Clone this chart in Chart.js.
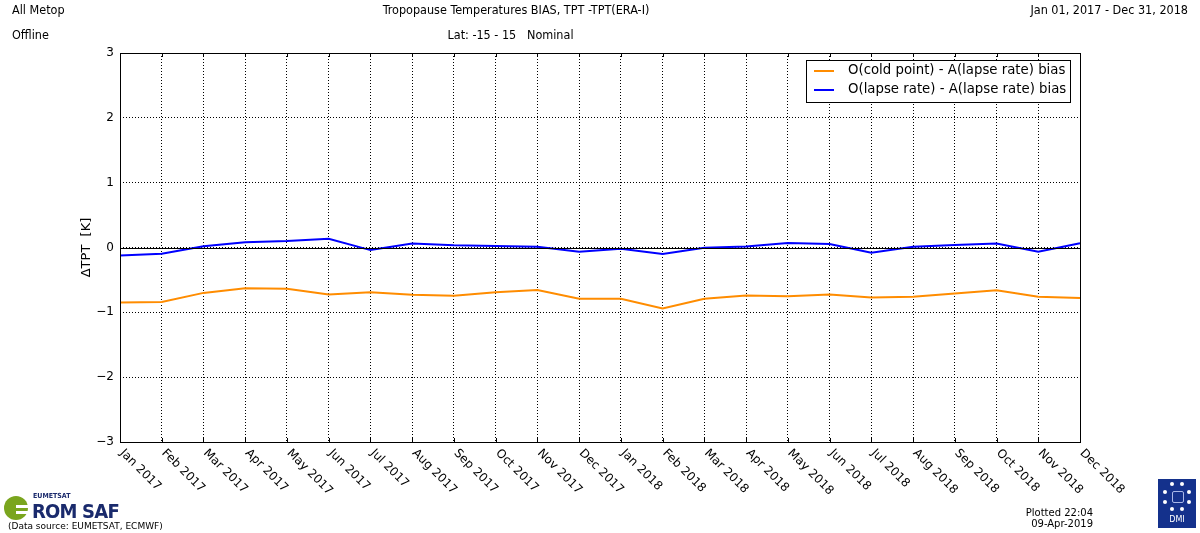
<!DOCTYPE html>
<html>
<head>
<meta charset="utf-8">
<script src="https://cdn.jsdelivr.net/npm/chart.js@4.4.0/dist/chart.umd.min.js"></script>
<style>
  html, body { margin: 0; padding: 0; background: #fff; }
  #wrap { position: relative; width: 1200px; height: 533px; overflow: hidden; }
  #c { position: absolute; left: 0; top: 0; }
  .hdr { position: absolute; font: 12.5px "DejaVu Sans Condensed", "Liberation Sans Narrow", "DejaVu Sans", sans-serif; color: #000; white-space: nowrap; }
  .ft { position: absolute; font: 10px "DejaVu Sans", sans-serif; color: #000; white-space: nowrap; }
</style>
</head>
<body>
<div id="wrap">
  <canvas id="c" width="1200" height="533"></canvas>

  <div class="hdr" style="left:12px;top:2px;">All Metop</div>
  <div class="hdr" style="left:0;width:1032px;top:2px;text-align:center;">Tropopause Temperatures BIAS, TPT -TPT(ERA-I)</div>
  <div class="hdr" style="right:12px;top:2px;">Jan 01, 2017 - Dec 31, 2018</div>
  <div class="hdr" style="left:12px;top:27px;">Offline</div>
  <div class="hdr" style="left:0;width:1021px;top:27px;text-align:center;">Lat: -15 - 15 &nbsp; Nominal</div>

  <!-- ROM SAF logo (approximation) -->
  <div style="position:absolute;left:4px;top:496px;width:24px;height:24px;border-radius:50%;background:#7aa51e;"></div>
  <div style="position:absolute;left:16px;top:505px;width:14px;height:3px;background:#fff;"></div>
  <div style="position:absolute;left:16px;top:511px;width:14px;height:3px;background:#fff;"></div>
  <div style="position:absolute;left:33px;top:492px;font:bold 7px 'DejaVu Sans Condensed','DejaVu Sans',sans-serif;color:#1a2a6c;">EUMETSAT</div>
  <div style="position:absolute;left:32px;top:499px;font:bold 20px 'DejaVu Sans Condensed','DejaVu Sans',sans-serif;color:#1a2a6c;letter-spacing:-0.8px;">ROM SAF</div>
  <div class="ft" style="left:8px;top:521px;font-size:9px;">(Data source: EUMETSAT, ECMWF)</div>

  <div class="ft" style="right:107px;top:507px;text-align:right;line-height:11px;">Plotted 22:04<br>09-Apr-2019</div>

  <!-- DMI logo (approximation) -->
  <div style="position:absolute;left:1158px;top:479px;width:38px;height:49px;background:#14318c;">
    <div style="position:absolute;left:0;width:38px;top:36px;text-align:center;font:8px 'DejaVu Sans',sans-serif;color:#fff;">DMI</div>
    <div style="position:absolute;left:12px;top:3px;width:4px;height:4px;border-radius:50%;background:#fff;"></div>
    <div style="position:absolute;left:22px;top:3px;width:4px;height:4px;border-radius:50%;background:#fff;"></div>
    <div style="position:absolute;left:5px;top:11px;width:4px;height:4px;border-radius:50%;background:#fff;"></div>
    <div style="position:absolute;left:29px;top:11px;width:4px;height:4px;border-radius:50%;background:#fff;"></div>
    <div style="position:absolute;left:5px;top:21px;width:4px;height:4px;border-radius:50%;background:#fff;"></div>
    <div style="position:absolute;left:29px;top:21px;width:4px;height:4px;border-radius:50%;background:#fff;"></div>
    <div style="position:absolute;left:12px;top:28px;width:4px;height:4px;border-radius:50%;background:#fff;"></div>
    <div style="position:absolute;left:22px;top:28px;width:4px;height:4px;border-radius:50%;background:#fff;"></div>
    <div style="position:absolute;left:14px;top:12px;width:10px;height:10px;border:1px solid #aab8e8;border-radius:2px;"></div>
  </div>
</div>

<script>
// month labels along x
const months = [
  "Jan 2017", "Feb 2017", "Mar 2017", "Apr 2017", "May 2017", "Jun 2017",
  "Jul 2017", "Aug 2017", "Sep 2017", "Oct 2017", "Nov 2017", "Dec 2017",
  "Jan 2018", "Feb 2018", "Mar 2018", "Apr 2018", "May 2018", "Jun 2018",
  "Jul 2018", "Aug 2018", "Sep 2018", "Oct 2018", "Nov 2018", "Dec 2018"
];

// O(cold point) - A(lapse rate)
const coldPointBias = [
  -0.85, -0.84, -0.70, -0.63, -0.635, -0.725, -0.69, -0.73, -0.745, -0.69, -0.655, -0.79,
  -0.79, -0.94, -0.79, -0.74, -0.75, -0.725, -0.77, -0.76, -0.71, -0.66, -0.76, -0.78
];

// O(lapse rate) - A(lapse rate)
const lapseRateBias = [
  -0.125, -0.095, 0.02, 0.08, 0.10, 0.135, -0.04, 0.06, 0.035, 0.025, 0.01, -0.065,
  -0.02, -0.10, -0.005, 0.015, 0.07, 0.055, -0.08, 0.01, 0.04, 0.06, -0.065, 0.065
];

const seriesLabels = ["O(cold point) - A(lapse rate) bias", "O(lapse rate) - A(lapse rate) bias"];
const yTitle = "\u0394TPT  [K]";

const mainFont = '"DejaVu Sans", sans-serif';

// extra drawing: zero line, frame, rotated month labels, y title, legend box
const decorPlugin = {
  id: "decor",
  afterDatasetsDraw(chart) {
    const { ctx, chartArea: a, scales } = chart;
    ctx.save();
    // solid zero line
    const y0 = Math.round(scales.y.getPixelForValue(0)) + 0.5;
    ctx.strokeStyle = "#000";
    ctx.lineWidth = 1;
    ctx.beginPath();
    ctx.moveTo(a.left, y0);
    ctx.lineTo(a.right, y0);
    ctx.stroke();
    ctx.restore();
  },
  afterDraw(chart) {
    const { ctx, chartArea: a, scales } = chart;
    const x = scales.x;
    ctx.save();

    // plot frame
    ctx.strokeStyle = "#000";
    ctx.lineWidth = 1;
    ctx.strokeRect(Math.round(a.left) + 0.5, Math.round(a.top) + 0.5,
                   Math.round(a.right - a.left), Math.round(a.bottom - a.top));

    // small inside tick marks on the x axis
    months.forEach((m, i) => {
      const px = Math.round(x.getPixelForValue(i)) + 0.5;
      ctx.beginPath();
      ctx.moveTo(px, a.bottom); ctx.lineTo(px, a.bottom - 4);
      ctx.moveTo(px, a.top); ctx.lineTo(px, a.top + 4);
      ctx.stroke();
    });

    // rotated month labels (clockwise, starting at the tick)
    ctx.font = "12px " + mainFont;
    ctx.fillStyle = "#000";
    ctx.textAlign = "left";
    ctx.textBaseline = "top";
    months.forEach((m, i) => {
      const px = x.getPixelForValue(i);
      ctx.save();
      ctx.translate(px + 6, a.bottom + 5);
      ctx.rotate(Math.PI / 4);
      ctx.fillText(m, 0, 0);
      ctx.restore();
    });

    // y axis title
    ctx.save();
    ctx.font = "13px " + mainFont;
    ctx.textAlign = "center";
    ctx.textBaseline = "middle";
    ctx.translate(87, (a.top + a.bottom) / 2);
    ctx.rotate(-Math.PI / 2);
    ctx.fillText(yTitle, 0, 0);
    ctx.restore();

    // legend box in the upper right of the plot
    const bx = 806, by = 60, bw = 264, bh = 42;
    ctx.fillStyle = "#fff";
    ctx.fillRect(bx, by, bw, bh);
    ctx.strokeStyle = "#000";
    ctx.strokeRect(bx + 0.5, by + 0.5, bw, bh);
    ctx.font = "13.3px " + mainFont;
    ctx.textBaseline = "middle";
    ctx.textAlign = "left";
    chart.data.datasets.forEach((ds, i) => {
      const ly = by + 11 + i * 19;
      ctx.strokeStyle = ds.borderColor;
      ctx.lineWidth = 2;
      ctx.beginPath();
      ctx.moveTo(814, ly); ctx.lineTo(834, ly);
      ctx.stroke();
      ctx.fillStyle = "#000";
      ctx.fillText(ds.label, 848, ly);
    });

    ctx.restore();
  }
};

new Chart(document.getElementById("c"), {
  type: "line",
  data: {
    labels: months,
    datasets: [
      {
        label: seriesLabels[0],
        data: coldPointBias,
        borderColor: "#ff8c00",
        borderWidth: 2,
        pointRadius: 0,
        tension: 0,
        fill: false
      },
      {
        label: seriesLabels[1],
        data: lapseRateBias,
        borderColor: "#0000ff",
        borderWidth: 2,
        pointRadius: 0,
        tension: 0,
        fill: false
      }
    ]
  },
  options: {
    responsive: false,
    animation: false,
    layout: { padding: { top: 53, right: 120, bottom: 0, left: 0 } },
    plugins: {
      legend: { display: false },
      tooltip: { enabled: false }
    },
    scales: {
      x: {
        type: "category",
        offset: false,
        ticks: { display: false },
        grid: { color: "#000", lineWidth: 1, drawTicks: false },
        border: { display: false, dash: [1, 2] },
        afterFit(scale) { scale.height = 91; }
      },
      y: {
        min: -3,
        max: 3,
        ticks: {
          stepSize: 1,
          padding: 6,
          color: "#000",
          font: { family: mainFont, size: 12 },
          callback: v => String(v).replace("-", "\u2212")
        },
        grid: { color: "#000", lineWidth: 1, drawTicks: false },
        border: { display: false, dash: [1, 2] },
        afterFit(scale) { scale.width = 120; }
      }
    }
  },
  plugins: [decorPlugin]
});
</script>
</body>
</html>
